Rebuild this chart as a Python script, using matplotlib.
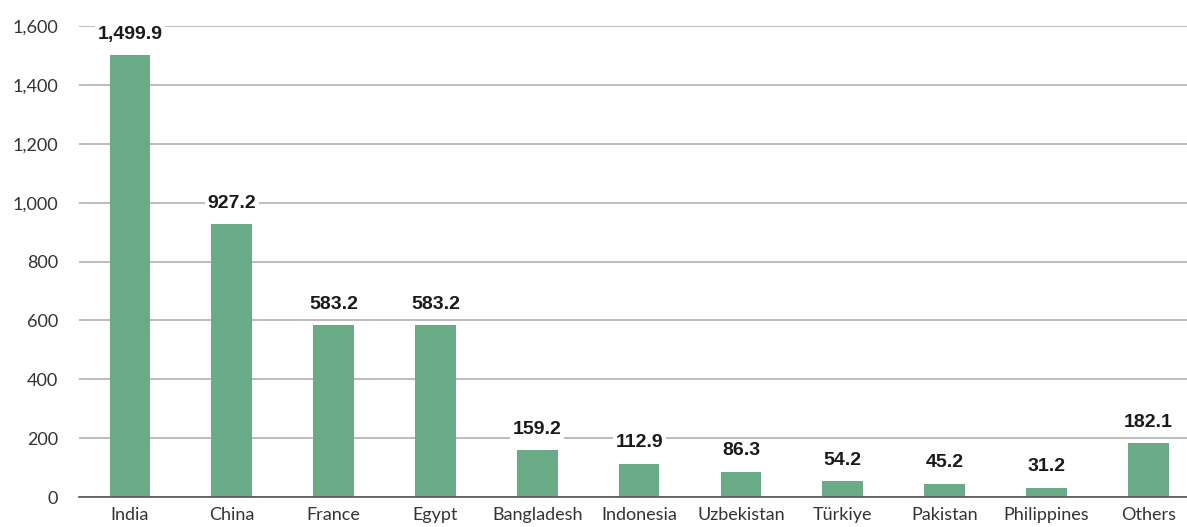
import matplotlib.pyplot as plt

# Datos
paises = ['India', 'China', 'France', 'Egypt', 'Bangladesh', 'Indonesia',
          'Uzbekistan', 'Türkiye', 'Pakistan', 'Philippines', 'Others']
valores = [1499.9, 927.2, 583.2, 583.2, 159.2, 112.9, 86.3, 54.2, 45.2, 31.2, 182.1]
yticks = [0, 200, 400, 600, 800, 1000, 1200, 1400, 1600]

fig = plt.figure(figsize=(11.87, 5.27), dpi=100)
ax = fig.add_axes([79 / 1187, 30 / 527, 1 - 79 / 1187, 471 / 527])

x = range(len(paises))
ax.bar(x, valores, width=0.4, color='#6aab87', zorder=2)

ax.set_xlim(-0.5, 10.38)
ax.set_ylim(0, 1600)
ax.set_yticks(yticks)
ax.set_yticklabels([f'{v:,}' for v in yticks], fontsize=13, color='#333333', family='Lato')
ax.set_xticks(list(x))
ax.set_xticklabels(paises, fontsize=13, color='#333333', family='Lato')
ax.tick_params(axis='both', length=0)
ax.tick_params(axis='x', pad=7)
ax.tick_params(axis='y', pad=15)

ax.grid(axis='y', color='#b0b0b0', linewidth=1.2, zorder=0)
for s in ['top', 'right', 'left']:
    ax.spines[s].set_visible(False)
ax.spines['bottom'].set_color('#555555')
ax.spines['bottom'].set_linewidth(1.2)

# Etiquetas de valor con fondo blanco
for i, v in enumerate(valores):
    ax.annotate(f'{v:,.1f}', xy=(i, v), xytext=(0, 9), textcoords='offset points',
                ha='center', va='bottom', fontsize=14, fontweight='bold',
                color='#1a1a1a', family='Liberation Sans',
                bbox=dict(facecolor='white', edgecolor='none', pad=2), zorder=3)

fig.savefig('out.png', dpi=100)
